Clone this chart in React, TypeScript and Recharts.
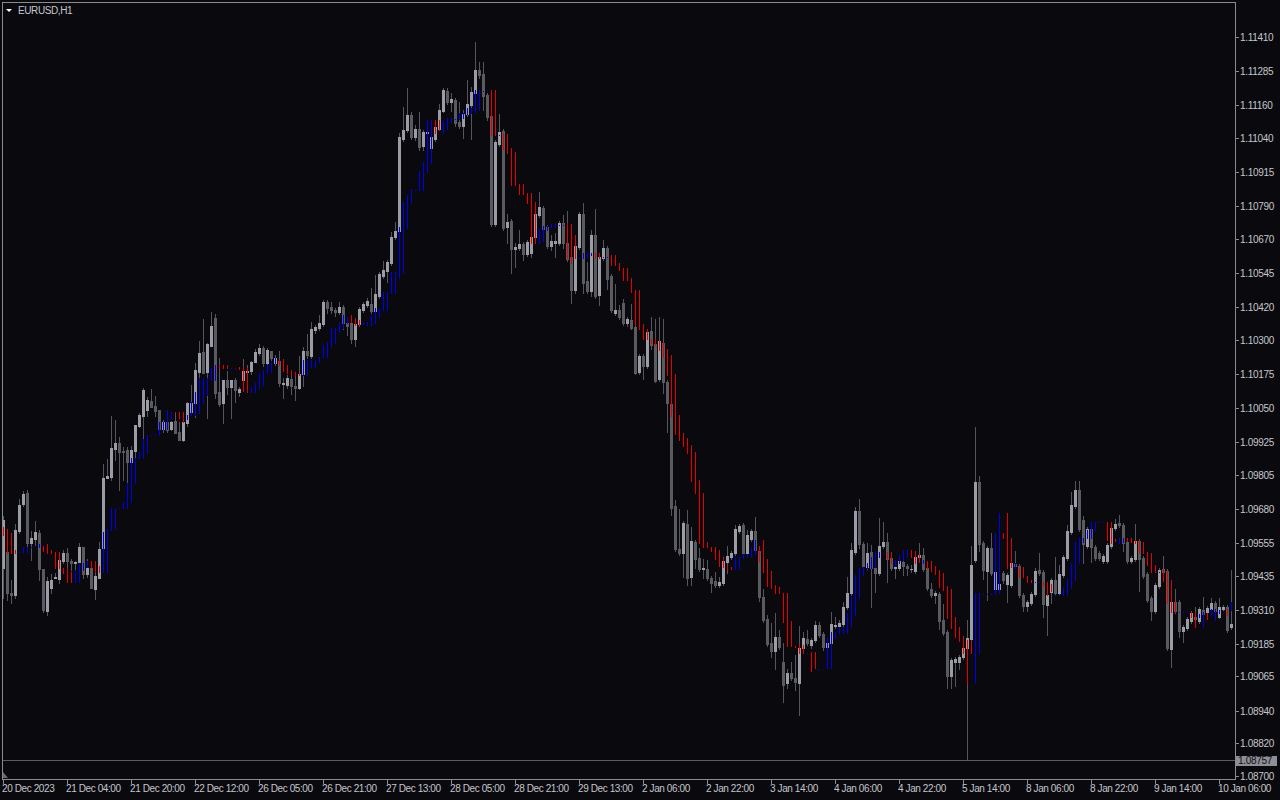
import { ComposedChart, Bar, XAxis, YAxis, ReferenceLine } from "recharts";

// EURUSD H1 candles, 20 Dec 2023 12:00 .. 10 Jan 2024 09:00
const opens = [
  1.09464, 1.09522, 1.09372, 1.09365, 1.09599, 1.09698, 1.09738, 1.09555, 1.09570, 1.09592, 1.09460, 1.09305, 1.09390, 1.09427, 1.09423, 1.09489,
  1.09518, 1.09489, 1.09482, 1.09486, 1.09540, 1.09441, 1.09464, 1.09386, 1.09427, 1.09537, 1.09794, 1.09797, 1.09900, 1.09922, 1.09892, 1.09896,
  1.09852, 1.09892, 1.09984, 1.10021, 1.10043, 1.10075, 1.10057, 1.10043, 1.09973, 1.09999, 1.09973, 1.10002, 1.09962, 1.09933, 1.09995, 1.10036,
  1.10068, 1.10182, 1.10256, 1.10182, 1.10277, 1.10380, 1.10109, 1.10068, 1.10153, 1.10127, 1.10153, 1.10109, 1.10153, 1.10182, 1.10185, 1.10219,
  1.10252, 1.10270, 1.10215, 1.10259, 1.10215, 1.10222, 1.10138, 1.10135, 1.10156, 1.10131, 1.10124, 1.10174, 1.10259, 1.10241, 1.10336, 1.10344,
  1.10358, 1.10439, 1.10420, 1.10409, 1.10402, 1.10420, 1.10362, 1.10362, 1.10303, 1.10358, 1.10409, 1.10428, 1.10431, 1.10405, 1.10461, 1.10534,
  1.10552, 1.10582, 1.10677, 1.10699, 1.11036, 1.11069, 1.11125, 1.11043, 1.11073, 1.11011, 1.11058, 1.11004, 1.11036, 1.11073, 1.11139, 1.11212,
  1.11172, 1.11179, 1.11099, 1.11084, 1.11128, 1.11161, 1.11205, 1.11289, 1.11274, 1.11198, 1.11121, 1.10724, 1.11018, 1.11065, 1.10713, 1.10735,
  1.10633, 1.10637, 1.10651, 1.10615, 1.10618, 1.10677, 1.10758, 1.10784, 1.10714, 1.10644, 1.10655, 1.10655, 1.10728, 1.10655, 1.10604, 1.10483,
  1.10640, 1.10761, 1.10515, 1.10479, 1.10685, 1.10465, 1.10600, 1.10637, 1.10534, 1.10398, 1.10409, 1.10435, 1.10362, 1.10373, 1.10347, 1.10182,
  1.10241, 1.10204, 1.10332, 1.10284, 1.10156, 1.10288, 1.10146, 1.10064, 1.09691, 1.09533, 1.09518, 1.09625, 1.09430, 1.09559, 1.09500, 1.09460,
  1.09460, 1.09427, 1.09415, 1.09401, 1.09408, 1.09486, 1.09504, 1.09518, 1.09599, 1.09621, 1.09518, 1.09570, 1.09599, 1.09525, 1.09357, 1.09276,
  1.09188, 1.09159, 1.09210, 1.09119, 1.09042, 1.09078, 1.09060, 1.09042, 1.09170, 1.09203, 1.09181, 1.09199, 1.09254, 1.09221, 1.09174, 1.09188,
  1.09251, 1.09251, 1.09258, 1.09320, 1.09372, 1.09522, 1.09672, 1.09551, 1.09467, 1.09522, 1.09464, 1.09445, 1.09544, 1.09559, 1.09500, 1.09464,
  1.09464, 1.09486, 1.09471, 1.09460, 1.09452, 1.09504, 1.09511, 1.09464, 1.09386, 1.09365, 1.09368, 1.09273, 1.09229, 1.09067, 1.09119, 1.09119,
  1.09137, 1.09170, 1.09203, 1.09493, 1.09779, 1.09555, 1.09452, 1.09537, 1.09386, 1.09386, 1.09445, 1.09405, 1.09401, 1.09478, 1.09471, 1.09365,
  1.09324, 1.09335, 1.09368, 1.09456, 1.09449, 1.09328, 1.09376, 1.09419, 1.09372, 1.09438, 1.09500, 1.09596, 1.09691, 1.09749, 1.09639, 1.09544,
  1.09606, 1.09540, 1.09518, 1.09489, 1.09489, 1.09544, 1.09610, 1.09628, 1.09621, 1.09559, 1.09489, 1.09497, 1.09562, 1.09500, 1.09441, 1.09353,
  1.09305, 1.09397, 1.09460, 1.09452, 1.09166, 1.09339, 1.09339, 1.09232, 1.09243, 1.09269, 1.09284, 1.09269, 1.09309, 1.09302, 1.09313, 1.09335,
  1.09284, 1.09313, 1.09320, 1.09247,
];

const highs = [
  1.09654, 1.09529, 1.09419, 1.09625, 1.09716, 1.09745, 1.09749, 1.09599, 1.09636, 1.09603, 1.09460, 1.09430, 1.09441, 1.09445, 1.09507, 1.09529,
  1.09537, 1.09497, 1.09489, 1.09555, 1.09540, 1.09497, 1.09475, 1.09482, 1.09559, 1.09845, 1.09863, 1.10021, 1.10006, 1.09944, 1.09907, 1.09907,
  1.09911, 1.09988, 1.10032, 1.10124, 1.10090, 1.10120, 1.10094, 1.10043, 1.10006, 1.10039, 1.10002, 1.10036, 1.09999, 1.10036, 1.10072, 1.10135,
  1.10215, 1.10296, 1.10376, 1.10288, 1.10402, 1.10395, 1.10233, 1.10153, 1.10185, 1.10153, 1.10160, 1.10127, 1.10230, 1.10208, 1.10222, 1.10266,
  1.10284, 1.10277, 1.10270, 1.10259, 1.10245, 1.10259, 1.10160, 1.10171, 1.10171, 1.10167, 1.10241, 1.10273, 1.10321, 1.10365, 1.10355, 1.10391,
  1.10446, 1.10446, 1.10439, 1.10417, 1.10439, 1.10428, 1.10369, 1.10373, 1.10365, 1.10420, 1.10439, 1.10453, 1.10490, 1.10538, 1.10549, 1.10589,
  1.10593, 1.10696, 1.10732, 1.11058, 1.11154, 1.11223, 1.11135, 1.11088, 1.11135, 1.11069, 1.11077, 1.11051, 1.11088, 1.11164, 1.11223, 1.11223,
  1.11205, 1.11187, 1.11172, 1.11143, 1.11253, 1.11227, 1.11392, 1.11319, 1.11319, 1.11205, 1.11128, 1.11033, 1.11128, 1.11073, 1.10761, 1.10743,
  1.10655, 1.10703, 1.10659, 1.10666, 1.10685, 1.10769, 1.10842, 1.10791, 1.10721, 1.10685, 1.10692, 1.10736, 1.10758, 1.10772, 1.10611, 1.10651,
  1.10769, 1.10802, 1.10586, 1.10703, 1.10780, 1.10611, 1.10666, 1.10644, 1.10541, 1.10505, 1.10428, 1.10450, 1.10384, 1.10431, 1.10362, 1.10248,
  1.10248, 1.10340, 1.10384, 1.10376, 1.10384, 1.10376, 1.10153, 1.10072, 1.09713, 1.09680, 1.09636, 1.09676, 1.09614, 1.09566, 1.09537, 1.09497,
  1.09493, 1.09434, 1.09449, 1.09430, 1.09504, 1.09544, 1.09526, 1.09621, 1.09625, 1.09628, 1.09603, 1.09606, 1.09650, 1.09533, 1.09386, 1.09291,
  1.09262, 1.09298, 1.09236, 1.09188, 1.09093, 1.09119, 1.09144, 1.09251, 1.09229, 1.09236, 1.09207, 1.09269, 1.09265, 1.09229, 1.09196, 1.09302,
  1.09284, 1.09273, 1.09339, 1.09430, 1.09555, 1.09687, 1.09716, 1.09559, 1.09555, 1.09548, 1.09471, 1.09646, 1.09632, 1.09592, 1.09507, 1.09493,
  1.09497, 1.09493, 1.09478, 1.09475, 1.09511, 1.09555, 1.09537, 1.09471, 1.09408, 1.09379, 1.09376, 1.09331, 1.09236, 1.09133, 1.09137, 1.09144,
  1.09177, 1.09273, 1.09544, 1.09980, 1.09801, 1.09562, 1.09544, 1.09592, 1.09493, 1.09438, 1.09452, 1.09445, 1.09489, 1.09526, 1.09478, 1.09372,
  1.09346, 1.09376, 1.09464, 1.09518, 1.09456, 1.09372, 1.09427, 1.09504, 1.09475, 1.09511, 1.09621, 1.09742, 1.09782, 1.09782, 1.09654, 1.09614,
  1.09614, 1.09548, 1.09526, 1.09515, 1.09555, 1.09617, 1.09643, 1.09658, 1.09628, 1.09566, 1.09507, 1.09625, 1.09570, 1.09507, 1.09449, 1.09361,
  1.09408, 1.09464, 1.09507, 1.09460, 1.09346, 1.09386, 1.09346, 1.09255, 1.09284, 1.09306, 1.09320, 1.09320, 1.09357, 1.09324, 1.09353, 1.09342,
  1.09353, 1.09328, 1.09328, 1.09456,
];

const lows = [
  1.09353, 1.09346, 1.09335, 1.09353, 1.09592, 1.09691, 1.09540, 1.09493, 1.09548, 1.09419, 1.09302, 1.09291, 1.09372, 1.09427, 1.09408, 1.09482,
  1.09467, 1.09456, 1.09445, 1.09482, 1.09427, 1.09430, 1.09390, 1.09350, 1.09427, 1.09529, 1.09794, 1.09786, 1.09859, 1.09749, 1.09786, 1.09775,
  1.09852, 1.09870, 1.09980, 1.09889, 1.10021, 1.10053, 1.10021, 1.09969, 1.09962, 1.09962, 1.09969, 1.09958, 1.09933, 1.09929, 1.09984, 1.10032,
  1.10017, 1.10160, 1.10178, 1.10014, 1.10277, 1.10087, 1.10057, 1.09995, 1.10101, 1.10014, 1.10072, 1.10094, 1.10153, 1.10171, 1.10174, 1.10219,
  1.10245, 1.10204, 1.10208, 1.10226, 1.10208, 1.10131, 1.10087, 1.10124, 1.10101, 1.10079, 1.10120, 1.10131, 1.10233, 1.10233, 1.10325, 1.10336,
  1.10351, 1.10398, 1.10398, 1.10387, 1.10395, 1.10340, 1.10318, 1.10288, 1.10277, 1.10351, 1.10402, 1.10420, 1.10398, 1.10398, 1.10453, 1.10527,
  1.10512, 1.10575, 1.10670, 1.10692, 1.11029, 1.11062, 1.11036, 1.11033, 1.10996, 1.10996, 1.11033, 1.10996, 1.11029, 1.11069, 1.11135, 1.11164,
  1.11139, 1.11084, 1.11077, 1.11040, 1.11121, 1.11036, 1.11198, 1.11260, 1.11143, 1.11106, 1.10717, 1.10717, 1.11011, 1.10703, 1.10655, 1.10545,
  1.10567, 1.10629, 1.10593, 1.10607, 1.10604, 1.10670, 1.10750, 1.10699, 1.10637, 1.10629, 1.10604, 1.10648, 1.10637, 1.10589, 1.10435, 1.10472,
  1.10633, 1.10472, 1.10472, 1.10461, 1.10453, 1.10428, 1.10593, 1.10486, 1.10402, 1.10391, 1.10376, 1.10355, 1.10351, 1.10340, 1.10175, 1.10175,
  1.10156, 1.10197, 1.10266, 1.10146, 1.10149, 1.10105, 1.09962, 1.09658, 1.09526, 1.09511, 1.09430, 1.09401, 1.09401, 1.09464, 1.09452, 1.09427,
  1.09419, 1.09376, 1.09394, 1.09394, 1.09401, 1.09445, 1.09497, 1.09511, 1.09592, 1.09511, 1.09504, 1.09562, 1.09522, 1.09342, 1.09265, 1.09177,
  1.09137, 1.09093, 1.09166, 1.08972, 1.09024, 1.09053, 1.09016, 1.08925, 1.09163, 1.09181, 1.09170, 1.09192, 1.09210, 1.09163, 1.09166, 1.09181,
  1.09243, 1.09236, 1.09251, 1.09313, 1.09365, 1.09515, 1.09537, 1.09464, 1.09460, 1.09320, 1.09376, 1.09438, 1.09537, 1.09412, 1.09456, 1.09427,
  1.09456, 1.09438, 1.09438, 1.09449, 1.09445, 1.09497, 1.09452, 1.09383, 1.09357, 1.09335, 1.09240, 1.09218, 1.09023, 1.09023, 1.09031, 1.09093,
  1.09130, 1.08759, 1.09196, 1.09486, 1.09526, 1.09423, 1.09346, 1.09438, 1.09379, 1.09376, 1.09408, 1.09339, 1.09394, 1.09464, 1.09357, 1.09306,
  1.09306, 1.09328, 1.09361, 1.09438, 1.09284, 1.09218, 1.09335, 1.09365, 1.09365, 1.09430, 1.09493, 1.09588, 1.09683, 1.09599, 1.09482, 1.09537,
  1.09486, 1.09493, 1.09493, 1.09482, 1.09482, 1.09537, 1.09603, 1.09614, 1.09526, 1.09482, 1.09482, 1.09489, 1.09379, 1.09427, 1.09339, 1.09273,
  1.09298, 1.09390, 1.09441, 1.09163, 1.09100, 1.09298, 1.09210, 1.09192, 1.09236, 1.09262, 1.09269, 1.09262, 1.09287, 1.09295, 1.09306, 1.09298,
  1.09280, 1.09306, 1.09229, 1.09240,
];

const closes = [
  1.09639, 1.09372, 1.09365, 1.09603, 1.09694, 1.09734, 1.09555, 1.09573, 1.09596, 1.09460, 1.09309, 1.09415, 1.09419, 1.09430, 1.09493, 1.09518,
  1.09489, 1.09482, 1.09486, 1.09540, 1.09441, 1.09464, 1.09390, 1.09434, 1.09533, 1.09794, 1.09801, 1.09904, 1.09922, 1.09889, 1.09889, 1.09852,
  1.09896, 1.09988, 1.10024, 1.10116, 1.10079, 1.10053, 1.10039, 1.09973, 1.09999, 1.09969, 1.09999, 1.09958, 1.09933, 1.09999, 1.10068, 1.10068,
  1.10189, 1.10252, 1.10178, 1.10284, 1.10351, 1.10105, 1.10064, 1.10153, 1.10127, 1.10153, 1.10116, 1.10120, 1.10185, 1.10185, 1.10219, 1.10256,
  1.10270, 1.10215, 1.10263, 1.10233, 1.10233, 1.10142, 1.10142, 1.10160, 1.10131, 1.10124, 1.10174, 1.10259, 1.10245, 1.10340, 1.10347, 1.10362,
  1.10439, 1.10417, 1.10409, 1.10402, 1.10420, 1.10362, 1.10351, 1.10303, 1.10358, 1.10413, 1.10431, 1.10442, 1.10405, 1.10468, 1.10541, 1.10556,
  1.10586, 1.10677, 1.10699, 1.11043, 1.11069, 1.11125, 1.11043, 1.11073, 1.11007, 1.11062, 1.11062, 1.11043, 1.11080, 1.11143, 1.11216, 1.11172,
  1.11183, 1.11095, 1.11084, 1.11128, 1.11165, 1.11209, 1.11289, 1.11271, 1.11194, 1.11117, 1.10724, 1.11025, 1.11062, 1.10710, 1.10732, 1.10633,
  1.10640, 1.10651, 1.10615, 1.10659, 1.10677, 1.10761, 1.10787, 1.10706, 1.10644, 1.10662, 1.10662, 1.10728, 1.10655, 1.10596, 1.10483, 1.10644,
  1.10761, 1.10508, 1.10479, 1.10685, 1.10461, 1.10604, 1.10637, 1.10523, 1.10409, 1.10409, 1.10384, 1.10362, 1.10376, 1.10343, 1.10178, 1.10241,
  1.10204, 1.10329, 1.10281, 1.10149, 1.10295, 1.10146, 1.10068, 1.09684, 1.09533, 1.09518, 1.09628, 1.09427, 1.09562, 1.09497, 1.09460, 1.09464,
  1.09427, 1.09408, 1.09401, 1.09412, 1.09489, 1.09507, 1.09518, 1.09606, 1.09617, 1.09518, 1.09584, 1.09599, 1.09529, 1.09357, 1.09273, 1.09184,
  1.09159, 1.09210, 1.09174, 1.09035, 1.09078, 1.09060, 1.09046, 1.09170, 1.09207, 1.09188, 1.09199, 1.09254, 1.09217, 1.09174, 1.09188, 1.09258,
  1.09254, 1.09262, 1.09320, 1.09372, 1.09529, 1.09672, 1.09551, 1.09471, 1.09518, 1.09464, 1.09445, 1.09544, 1.09559, 1.09497, 1.09464, 1.09467,
  1.09489, 1.09471, 1.09464, 1.09460, 1.09504, 1.09511, 1.09460, 1.09390, 1.09365, 1.09372, 1.09269, 1.09225, 1.09067, 1.09126, 1.09130, 1.09137,
  1.09170, 1.09207, 1.09475, 1.09779, 1.09551, 1.09456, 1.09537, 1.09445, 1.09449, 1.09405, 1.09419, 1.09438, 1.09482, 1.09471, 1.09365, 1.09324,
  1.09339, 1.09368, 1.09452, 1.09445, 1.09331, 1.09365, 1.09419, 1.09372, 1.09441, 1.09504, 1.09599, 1.09694, 1.09749, 1.09606, 1.09551, 1.09606,
  1.09540, 1.09500, 1.09500, 1.09507, 1.09548, 1.09610, 1.09625, 1.09621, 1.09555, 1.09489, 1.09500, 1.09562, 1.09497, 1.09434, 1.09346, 1.09305,
  1.09401, 1.09456, 1.09449, 1.09170, 1.09339, 1.09305, 1.09232, 1.09247, 1.09276, 1.09298, 1.09276, 1.09313, 1.09295, 1.09317, 1.09335, 1.09305,
  1.09320, 1.09320, 1.09236, 1.09258,
];

// trailing-stop indicator: per-bar segment (upper / lower end) and side
const trailHi = [
  1.09614, 1.09606, 1.09592, 1.09529, 1.09522, 1.09540, 1.09540, 1.09540, 1.09540, 1.09551, 1.09544, 1.09551, 1.09529, 1.09522, 1.09522, 1.09464,
  1.09464, 1.09449, 1.09456, 1.09482, 1.09482, 1.09489, 1.09489, 1.09489, 1.09471, 1.09596, 1.09606, 1.09683, 1.09683, 1.09683, 1.09705, 1.09775,
  1.09867, 1.09867, 1.09889, 1.09936, 1.09951, 1.09951, 1.09951, 1.09999, 1.09999, 1.10043, 1.10036, 1.10036, 1.10036, 1.10036, 1.10024, 1.10072,
  1.10109, 1.10160, 1.10160, 1.10160, 1.10197, 1.10208, 1.10208, 1.10208, 1.10208, 1.10197, 1.10197, 1.10200, 1.10200, 1.10197, 1.10124, 1.10142,
  1.10178, 1.10189, 1.10208, 1.10219, 1.10233, 1.10226, 1.10230, 1.10208, 1.10189, 1.10182, 1.10178, 1.10226, 1.10226, 1.10226, 1.10226, 1.10237,
  1.10281, 1.10292, 1.10343, 1.10343, 1.10365, 1.10391, 1.10384, 1.10391, 1.10380, 1.10373, 1.10365, 1.10365, 1.10391, 1.10417, 1.10417, 1.10475,
  1.10475, 1.10549, 1.10549, 1.10714, 1.10805, 1.10831, 1.10853, 1.10849, 1.10919, 1.10952, 1.11106, 1.11106, 1.11106, 1.11106, 1.11102, 1.11113,
  1.11113, 1.11110, 1.11132, 1.11132, 1.11150, 1.11150, 1.11216, 1.11216, 1.11212, 1.11212, 1.11216, 1.11216, 1.11051, 1.11058, 1.11055, 1.11003,
  1.10989, 1.10871, 1.10871, 1.10838, 1.10838, 1.10805, 1.10706, 1.10717, 1.10717, 1.10725, 1.10725, 1.10721, 1.10721, 1.10728, 1.10725, 1.10685,
  1.10600, 1.10618, 1.10618, 1.10618, 1.10618, 1.10618, 1.10604, 1.10604, 1.10611, 1.10611, 1.10582, 1.10563, 1.10563, 1.10527, 1.10483, 1.10483,
  1.10358, 1.10340, 1.10303, 1.10303, 1.10296, 1.10288, 1.10266, 1.10245, 1.10175, 1.10024, 1.09958, 1.09940, 1.09914, 1.09889, 1.09786, 1.09738,
  1.09559, 1.09540, 1.09540, 1.09529, 1.09500, 1.09475, 1.09467, 1.09504, 1.09504, 1.09515, 1.09515, 1.09537, 1.09566, 1.09544, 1.09566, 1.09497,
  1.09453, 1.09401, 1.09394, 1.09372, 1.09372, 1.09269, 1.09177, 1.09181, 1.09181, 1.09152, 1.09155, 1.09155, 1.09093, 1.09093, 1.09207, 1.09229,
  1.09229, 1.09247, 1.09247, 1.09298, 1.09357, 1.09438, 1.09464, 1.09467, 1.09482, 1.09504, 1.09522, 1.09522, 1.09518, 1.09522, 1.09522, 1.09493,
  1.09511, 1.09529, 1.09529, 1.09529, 1.09526, 1.09511, 1.09493, 1.09489, 1.09489, 1.09471, 1.09456, 1.09445, 1.09397, 1.09386, 1.09284, 1.09247,
  1.09214, 1.09199, 1.09196, 1.09372, 1.09372, 1.09368, 1.09368, 1.09368, 1.09592, 1.09665, 1.09592, 1.09665, 1.09573, 1.09482, 1.09467, 1.09467,
  1.09434, 1.09419, 1.09412, 1.09412, 1.09412, 1.09412, 1.09405, 1.09365, 1.09365, 1.09390, 1.09423, 1.09482, 1.09559, 1.09573, 1.09573, 1.09603,
  1.09632, 1.09632, 1.09632, 1.09632, 1.09632, 1.09632, 1.09570, 1.09573, 1.09573, 1.09573, 1.09573, 1.09566, 1.09566, 1.09559, 1.09522, 1.09518,
  1.09475, 1.09449, 1.09460, 1.09452, 1.09419, 1.09339, 1.09302, 1.09302, 1.09302, 1.09302, 1.09302, 1.09295, 1.09302, 1.09298, 1.09313, 1.09313,
  1.09309, 1.09306, 1.09313, 1.09339,
];

const trailLo = [
  1.09585, 1.09518, 1.09518, 1.09518, 1.09522, 1.09522, 1.09522, 1.09540, 1.09540, 1.09540, 1.09526, 1.09518, 1.09518, 1.09464, 1.09464, 1.09445,
  1.09412, 1.09412, 1.09412, 1.09412, 1.09456, 1.09467, 1.09467, 1.09449, 1.09449, 1.09449, 1.09449, 1.09603, 1.09606, 1.09683, 1.09683, 1.09683,
  1.09705, 1.09775, 1.09867, 1.09867, 1.09885, 1.09951, 1.09951, 1.09951, 1.09973, 1.09973, 1.10014, 1.10036, 1.10014, 1.09999, 1.10010, 1.10024,
  1.10024, 1.10032, 1.10068, 1.10098, 1.10153, 1.10153, 1.10197, 1.10197, 1.10197, 1.10197, 1.10197, 1.10193, 1.10112, 1.10109, 1.10109, 1.10109,
  1.10124, 1.10135, 1.10178, 1.10182, 1.10215, 1.10208, 1.10185, 1.10178, 1.10175, 1.10171, 1.10171, 1.10171, 1.10171, 1.10200, 1.10200, 1.10219,
  1.10237, 1.10237, 1.10274, 1.10288, 1.10329, 1.10343, 1.10362, 1.10365, 1.10355, 1.10355, 1.10358, 1.10355, 1.10355, 1.10362, 1.10384, 1.10409,
  1.10409, 1.10472, 1.10472, 1.10527, 1.10545, 1.10710, 1.10802, 1.10849, 1.10849, 1.10849, 1.10915, 1.10948, 1.11058, 1.11073, 1.11058, 1.11073,
  1.11099, 1.11110, 1.11110, 1.11113, 1.11128, 1.11132, 1.11135, 1.11143, 1.11212, 1.11212, 1.11051, 1.11051, 1.11051, 1.10999, 1.10985, 1.10868,
  1.10868, 1.10835, 1.10835, 1.10802, 1.10655, 1.10655, 1.10655, 1.10662, 1.10703, 1.10714, 1.10714, 1.10721, 1.10721, 1.10600, 1.10582, 1.10600,
  1.10600, 1.10600, 1.10600, 1.10611, 1.10604, 1.10600, 1.10604, 1.10604, 1.10575, 1.10575, 1.10556, 1.10519, 1.10519, 1.10476, 1.10355, 1.10340,
  1.10303, 1.10303, 1.10288, 1.10281, 1.10263, 1.10237, 1.10171, 1.10021, 1.09955, 1.09933, 1.09911, 1.09885, 1.09782, 1.09738, 1.09555, 1.09540,
  1.09540, 1.09526, 1.09497, 1.09471, 1.09467, 1.09460, 1.09460, 1.09460, 1.09460, 1.09500, 1.09504, 1.09507, 1.09515, 1.09489, 1.09449, 1.09398,
  1.09390, 1.09372, 1.09372, 1.09265, 1.09177, 1.09177, 1.09174, 1.09152, 1.09152, 1.09152, 1.09086, 1.09097, 1.09093, 1.09093, 1.09097, 1.09097,
  1.09207, 1.09225, 1.09225, 1.09225, 1.09247, 1.09291, 1.09353, 1.09438, 1.09464, 1.09464, 1.09467, 1.09504, 1.09518, 1.09500, 1.09482, 1.09471,
  1.09482, 1.09493, 1.09504, 1.09504, 1.09482, 1.09486, 1.09482, 1.09464, 1.09453, 1.09442, 1.09394, 1.09383, 1.09280, 1.09243, 1.09210, 1.09196,
  1.09152, 1.09042, 1.09152, 1.09042, 1.09152, 1.09368, 1.09368, 1.09368, 1.09368, 1.09372, 1.09573, 1.09464, 1.09467, 1.09464, 1.09430, 1.09430,
  1.09412, 1.09412, 1.09412, 1.09412, 1.09401, 1.09365, 1.09379, 1.09365, 1.09365, 1.09365, 1.09365, 1.09390, 1.09419, 1.09482, 1.09559, 1.09573,
  1.09573, 1.09603, 1.09632, 1.09632, 1.09566, 1.09555, 1.09562, 1.09555, 1.09559, 1.09562, 1.09559, 1.09555, 1.09518, 1.09518, 1.09475, 1.09449,
  1.09449, 1.09449, 1.09416, 1.09335, 1.09302, 1.09302, 1.09302, 1.09302, 1.09302, 1.09284, 1.09247, 1.09284, 1.09247, 1.09276, 1.09295, 1.09273,
  1.09298, 1.09306, 1.09291, 1.09309,
];

// runs of bars: "b" = support below price (blue), "r" = resistance above price (red)
const trailRuns: [string, number][] = [
  ["r", 4], ["b", 6], ["r", 8], ["b", 4], ["r", 3], ["b", 18], ["r", 3], ["b", 8], ["r", 3], ["b", 2],
  ["r", 3], ["b", 7], ["r", 6], ["b", 12], ["r", 3], ["b", 18], ["r", 2], ["b", 12], ["r", 2], ["b", 1],
  ["r", 9], ["b", 7], ["r", 3], ["b", 4], ["r", 2], ["b", 2], ["r", 31], ["b", 6], ["r", 12], ["b", 1],
  ["r", 2], ["b", 17], ["r", 2], ["b", 4], ["r", 3], ["b", 1], ["r", 12], ["b", 7], ["r", 3], ["b", 1],
  ["r", 4], ["b", 2], ["r", 3], ["b", 13], ["r", 3], ["b", 2], ["r", 8], ["b", 1], ["r", 4], ["b", 3],
  ["r", 2], ["b", 2], ["r", 1], ["b", 4], ["r", 1], ["b", 1],
];

const timeLabels = [
  "20 Dec 2023", "21 Dec 04:00", "21 Dec 20:00", "22 Dec 12:00", "26 Dec 05:00",
  "26 Dec 21:00", "27 Dec 13:00", "28 Dec 05:00", "28 Dec 21:00", "29 Dec 13:00",
  "2 Jan 06:00", "2 Jan 22:00", "3 Jan 14:00", "4 Jan 06:00", "4 Jan 22:00",
  "5 Jan 14:00", "8 Jan 06:00", "8 Jan 22:00", "9 Jan 14:00", "10 Jan 06:00",
];

const priceTicks = [
  1.1141, 1.11285, 1.1116, 1.1104, 1.10915, 1.1079, 1.1067, 1.10545, 1.1042, 1.103, 1.10175, 1.1005,
  1.09925, 1.09805, 1.0968, 1.09555, 1.09435, 1.0931, 1.09185, 1.09065, 1.0894, 1.0882, 1.087,
];

const lastPrice = 1.08757;
const symbolTitle = "EURUSD,H1";

const Y_MIN = 1.0869267;
const Y_MAX = 1.1153835;
const LABEL_STEP = 16;

const BG = "#0a0a0e";
const BULL = "#9c9ca7";
const BEAR = "#5a5a61";
const WICK = "#55555c";
const FRAME = "#8a8a92";
const TEXT = "#c4c6cc";
const LINE = "#5c5c68";
const SUPPORT = "#0000f0";
const RESIST = "#e60000";
const FONT = "'Liberation Sans', Arial, sans-serif";

const trailSide = trailRuns.flatMap(([s, n]) => Array(n).fill(s));

const rows = opens.map((o, i) => ({
  i,
  o,
  h: highs[i],
  l: lows[i],
  c: closes[i],
  range: [lows[i], highs[i]],
  tHi: trailHi[i],
  tLo: trailLo[i],
  side: trailSide[i],
}));

function Candle(props: any) {
  const { x, y, width, height, payload } = props;
  const { o, h, l, c, tHi, tLo, side } = payload;
  const cx = Math.floor(x + width / 2);
  const py = (p: number) => y + ((h - p) / (h - l)) * height;
  const wTop = Math.round(y);
  const wBot = Math.round(y + height);
  const bTop = Math.round(py(Math.max(o, c)));
  const bBot = Math.round(py(Math.min(o, c)));
  const sTop = Math.round(py(tHi));
  const sBot = Math.round(py(tLo));
  return (
    <g>
      <rect x={cx} y={wTop} width={1} height={Math.max(1, wBot - wTop + 1)} fill={WICK} />
      <rect x={cx - 1} y={bTop} width={3} height={Math.max(1, bBot - bTop + 1)} fill={c >= o ? BULL : BEAR} />
      <rect x={cx} y={sTop} width={1} height={Math.max(1, sBot - sTop + 1)} fill={side === "b" ? SUPPORT : RESIST} />
    </g>
  );
}

function TimeTick({ x, payload }: any) {
  const px = Math.floor(x);
  const label = timeLabels[Math.round(payload.value / LABEL_STEP)];
  return (
    <g>
      <rect x={px} y={779} width={1} height={5} fill={FRAME} />
      <text x={px - 1} y={792} fill={TEXT} fontSize={10} fontFamily={FONT} letterSpacing={-0.4}>
        {label}
      </text>
    </g>
  );
}

function PriceTick({ y, payload }: any) {
  const py = Math.round(y);
  return (
    <g>
      <rect x={1236} y={py} width={3} height={1} fill={FRAME} />
      <text x={1240} y={py + 4} fill={TEXT} fontSize={10} fontFamily={FONT} letterSpacing={-0.3}>
        {Number(payload.value).toFixed(5)}
      </text>
    </g>
  );
}

function PriceLine(props: any) {
  const py = Math.floor(props.y1 ?? props.y ?? 760);
  return (
    <g>
      <rect x={3} y={py} width={1232} height={1} fill={LINE} />
      <rect x={1236} y={py - 4} width={41} height={10} fill="#8e8e96" />
      <text x={1238} y={py + 4} fill="#101014" fontSize={10} fontFamily={FONT} letterSpacing={-0.3}>
        {lastPrice.toFixed(5)}
      </text>
    </g>
  );
}

export default function App() {
  return (
    <div style={{ position: "fixed", left: 0, top: 0, width: 1280, height: 800, background: BG }}>
      <ComposedChart
        width={1280}
        height={800}
        data={rows}
        margin={{ top: 2, right: 0, bottom: 0, left: 1.5 }}
        barCategoryGap={0}
        barGap={0}
      >
        <XAxis
          dataKey="i"
          type="category"
          interval={LABEL_STEP - 1}
          height={22}
          axisLine={false}
          tickLine={false}
          tick={<TimeTick />}
        />
        <YAxis
          orientation="right"
          width={46.5}
          domain={[Y_MIN, Y_MAX]}
          allowDataOverflow
          ticks={priceTicks}
          interval={0}
          axisLine={false}
          tickLine={false}
          tick={<PriceTick />}
        />
        <ReferenceLine y={lastPrice} shape={<PriceLine />} ifOverflow="visible" />
        <Bar dataKey="range" shape={<Candle />} isAnimationActive={false} />
      </ComposedChart>

      {/* chart frame, title and shift marker */}
      <div
        style={{
          position: "absolute",
          left: 2,
          top: 2,
          width: 1232,
          height: 776,
          border: `1px solid ${FRAME}`,
          pointerEvents: "none",
        }}
      />
      <svg width={1280} height={800} style={{ position: "absolute", left: 0, top: 0, pointerEvents: "none" }}>
        <polygon points="6,9 12,9 9,12" fill="#ffffff" />
        <text x={18} y={14} fill={TEXT} fontSize={10} fontFamily={FONT} letterSpacing={-0.4}>
          {symbolTitle}
        </text>
        <polygon points="3,772 3,778 8,778" fill="#6a6a76" />
      </svg>
    </div>
  );
}
